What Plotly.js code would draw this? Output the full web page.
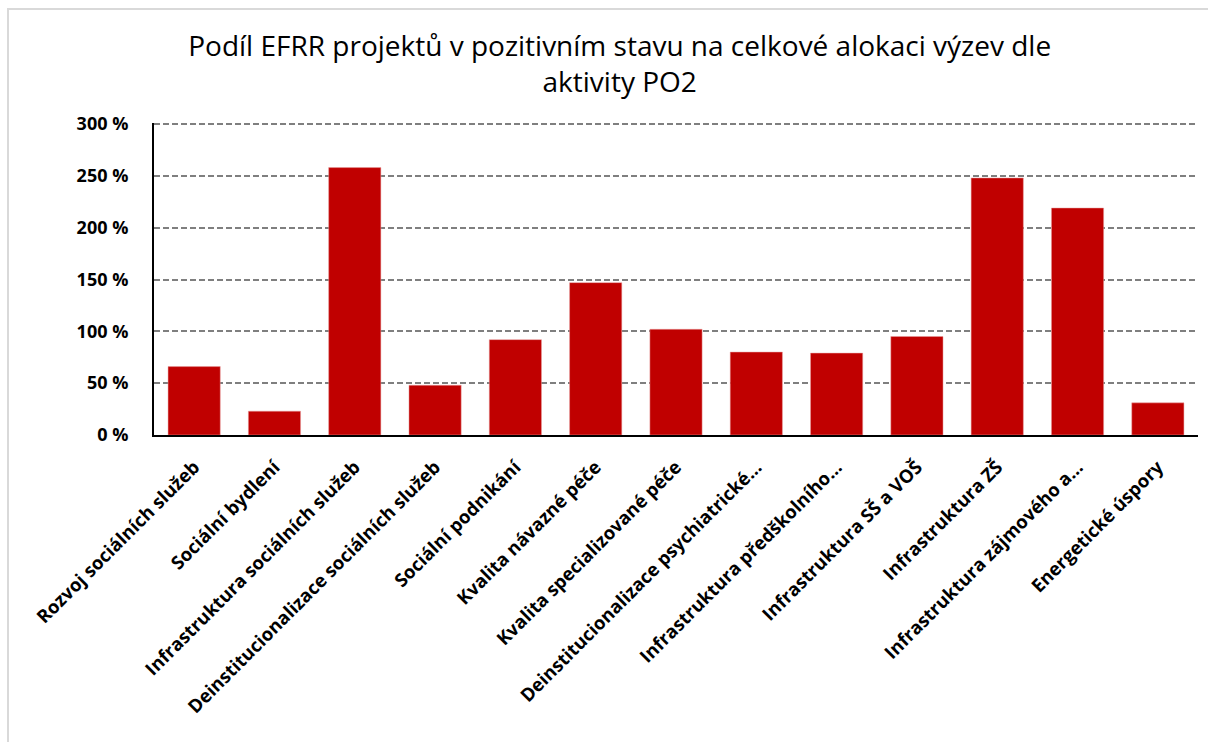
<!DOCTYPE html>
<html>
<head>
<meta charset="utf-8">
<script src="https://cdn.plot.ly/plotly-3.0.1.min.js"></script>
<style>
  html, body { margin: 0; padding: 0; background: #ffffff; }
  #wrap { position: relative; width: 1208px; height: 742px; overflow: hidden; }
  #frame { position: absolute; left: 7px; top: 8px; right: -4px; bottom: -4px;
           border-left: 2px solid #d9d9d9; border-top: 2px solid #d9d9d9; pointer-events: none; z-index: 5; }
  #chart { position: absolute; left: 0; top: 0; width: 1208px; height: 742px; }
</style>
</head>
<body>
<div id="wrap">
  <div id="chart"></div>
  <div id="frame"></div>
</div>
<script>
const categories = [
  "Rozvoj sociálních služeb",
  "Sociální bydlení",
  "Infrastruktura sociálních služeb",
  "Deinstitucionalizace sociálních služeb",
  "Sociální podnikání",
  "Kvalita návazné péče",
  "Kvalita specializované péče",
  "Deinstitucionalizace psychiatrické…",
  "Infrastruktura předškolního…",
  "Infrastruktura SŠ a VOŠ",
  "Infrastruktura ZŠ",
  "Infrastruktura zájmového a…",
  "Energetické úspory"
];
const sharePct = [66, 23, 258, 48, 92, 147, 102, 80, 79, 95, 248, 219, 31];
const yTickVals = [0, 50, 100, 150, 200, 250, 300];
const yTickText = yTickVals.map(v => v + " %");
const titleText = "Podíl EFRR projektů v pozitivním stavu na celkové alokaci výzev dle<br>aktivity PO2";

const trace = {
  type: "bar",
  x: categories,
  y: sharePct,
  marker: { color: "#C00000", line: { color: "#e8a0a0", width: 0.5 } },
  hoverinfo: "x+y"
};

const layout = {
  width: 1208,
  height: 742,
  margin: { l: 154, r: 10, t: 123, b: 306.5 },
  paper_bgcolor: "#ffffff",
  plot_bgcolor: "#ffffff",
  showlegend: false,
  bargap: 0.35,
  font: { family: "Open Sans, sans-serif", color: "#000000" },
  title: {
    text: titleText,
    font: { family: "Open Sans, sans-serif", size: 28, color: "#000000" },
    xref: "container", x: 0.513, xanchor: "center",
    yref: "container", y: 0.925, yanchor: "top"
  },
  xaxis: {
    type: "category",
    showline: true, linecolor: "#000000", linewidth: 2,
    showgrid: false, ticks: "",
    tickangle: -45,
    ticklabelstandoff: 12,
    tickfont: { family: "Open Sans, sans-serif", size: 18.5, weight: 700, color: "#000000" }
  },
  yaxis: {
    range: [0, 301],
    tickmode: "array",
    tickvals: yTickVals,
    ticktext: yTickText,
    showline: true, linecolor: "#000000", linewidth: 2,
    showgrid: true, gridcolor: "#7f7f7f", gridwidth: 2, griddash: "6px,3px",
    zeroline: false, ticks: "",
    ticklabelstandoff: 20,
    tickfont: { family: "Open Sans, sans-serif", size: 18, weight: 700, color: "#000000" }
  }
};

Plotly.newPlot("chart", [trace], layout, { displayModeBar: false, staticPlot: true });
</script>
</body>
</html>
